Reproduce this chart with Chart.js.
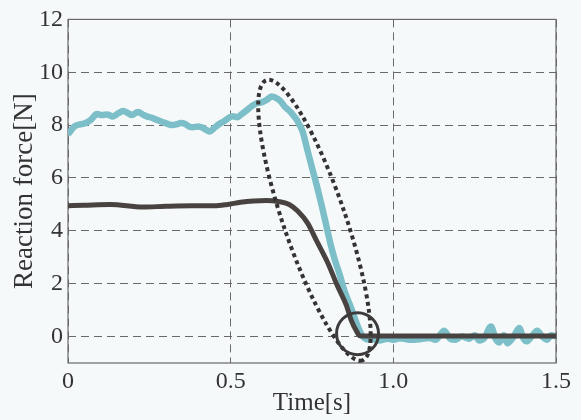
<!DOCTYPE html>
<html>
<head>
<meta charset="utf-8">
<title>Reaction force</title>
<script src="https://cdn.jsdelivr.net/npm/chart.js@4.4.0/dist/chart.umd.min.js"></script>
<style>
  html, body { margin: 0; padding: 0; background: #f6f9fa; }
  #wrap { width: 581px; height: 420px; }
</style>
</head>
<body>
<div id="wrap"><canvas id="forceChart" width="581" height="420"></canvas></div>
<script>
// Axis ticks
const xTicks = [0, 0.5, 1.0, 1.5];
const xTickLabels = ['0', '0.5', '1.0', '1.5'];
const yTicks = [0, 2, 4, 6, 8, 10, 12];

// Dark curve
const blackTime = [0, 0.05, 0.13, 0.23, 0.3, 0.38, 0.45, 0.49, 0.53, 0.57, 0.61, 0.65, 0.68,
    0.706, 0.736, 0.767, 0.798, 0.828, 0.856, 0.871, 0.887, 0.897, 0.92, 1.0, 1.2, 1.5];
const blackForce = [4.95, 4.97, 5.0, 4.9, 4.93, 4.95, 4.95, 5.0, 5.08, 5.13, 5.15, 5.1, 5.0,
    4.75, 4.3, 3.55, 2.8, 1.92, 1.17, 0.6, 0.2, 0.03, 0.02, 0.02, 0.02, 0.02];

// Light (cyan) curve
const cyanTime = [0, 0.021, 0.052, 0.07, 0.089, 0.105, 0.12, 0.138, 0.155, 0.169, 0.185, 0.196,
    0.215, 0.23, 0.242, 0.258, 0.273, 0.29, 0.304, 0.32, 0.334, 0.347, 0.359, 0.372, 0.383, 0.4,
    0.414, 0.425, 0.436, 0.45, 0.466, 0.48, 0.495, 0.506, 0.52, 0.534, 0.548, 0.565, 0.58, 0.595,
    0.61, 0.626, 0.644, 0.655, 0.666, 0.677, 0.687, 0.702, 0.712, 0.72, 0.727, 0.736, 0.752, 0.765,
    0.779, 0.794, 0.806, 0.819, 0.835, 0.85, 0.871, 0.887, 0.9, 0.91, 0.926, 0.945, 0.957, 0.98,
    1.0, 1.02, 1.05, 1.08, 1.11, 1.13, 1.156, 1.175, 1.19, 1.21, 1.233, 1.25, 1.264, 1.28, 1.3,
    1.315, 1.325, 1.34, 1.35, 1.37, 1.387, 1.4, 1.41, 1.425, 1.442, 1.458, 1.472, 1.485, 1.5];
const cyanForce = [7.65, 7.96, 8.07, 8.2, 8.42, 8.38, 8.4, 8.33, 8.45, 8.53, 8.45, 8.38,
    8.5, 8.4, 8.33, 8.28, 8.2, 8.12, 8.06, 8.0, 8.03, 8.08, 8.05, 7.95, 7.92, 7.95,
    7.9, 7.82, 7.76, 7.9, 8.05, 8.15, 8.28, 8.34, 8.3, 8.42, 8.55, 8.72, 8.83, 8.86,
    8.95, 9.08, 9.0, 8.88, 8.7, 8.58, 8.45, 8.22, 8.0, 7.8, 7.5, 7.05, 6.3, 5.7,
    5.0, 4.2, 3.55, 2.95, 2.35, 1.72, 1.06, 0.5, 0.12, -0.05, -0.12, -0.1, -0.15, -0.08,
    -0.12, -0.06, -0.12, -0.1, -0.05, -0.12, 0.22, -0.08, -0.12, 0.0, -0.08, 0.05, -0.15, -0.05, 0.38,
    -0.1, -0.22, 0.05, -0.25, 0.0, 0.32, -0.08, -0.18, 0.0, 0.22, 0.0, -0.12, 0.05, 0.0];

// Annotations: dotted ellipse (top / bottom ends in data units) and the small circle
const ellipseTop = [0.61, 9.7];
const ellipseBottom = [0.905, -0.9];
const circleCenter = [0.89, 0.11];

const toPoints = (xs, ys) => xs.map((v, i) => ({ x: v, y: ys[i] }));

const serif = '"Liberation Serif", "DejaVu Serif", serif';

// frame + ellipse + circle
const overlayPlugin = {
    id: 'overlay',
    beforeDatasetsDraw(chart) {
        const { ctx, chartArea } = chart;
        ctx.save();
        ctx.strokeStyle = '#6a6a6a';
        ctx.lineWidth = 1.2;
        ctx.strokeRect(chartArea.left, chartArea.top,
            chartArea.right - chartArea.left, chartArea.bottom - chartArea.top);
        ctx.restore();
    },
    afterDatasetsDraw(chart) {
        const { ctx } = chart;
        const x = chart.scales.x, y = chart.scales.y;
        const x1 = x.getPixelForValue(ellipseTop[0]), y1 = y.getPixelForValue(ellipseTop[1]);
        const x2 = x.getPixelForValue(ellipseBottom[0]), y2 = y.getPixelForValue(ellipseBottom[1]);
        ctx.save();
        ctx.strokeStyle = '#343232';
        ctx.lineWidth = 4;
        ctx.setLineDash([4, 3.5]);
        ctx.beginPath();
        ctx.ellipse((x1 + x2) / 2, (y1 + y2) / 2, Math.hypot(x2 - x1, y2 - y1) / 2, 31,
            Math.atan2(y2 - y1, x2 - x1), 0, Math.PI * 2);
        ctx.stroke();

        ctx.setLineDash([]);
        ctx.lineWidth = 3;
        ctx.strokeStyle = '#3c3a3a';
        ctx.beginPath();
        ctx.arc(x.getPixelForValue(circleCenter[0]), y.getPixelForValue(circleCenter[1]), 21, 0, Math.PI * 2);
        ctx.stroke();
        ctx.restore();
    }
};

const ctx = document.getElementById('forceChart').getContext('2d');
new Chart(ctx, {
    type: 'scatter',
    data: {
        datasets: [{
            data: toPoints(blackTime, blackForce),
            showLine: true,
            borderColor: '#484341',
            borderWidth: 5,
            pointRadius: 0,
            cubicInterpolationMode: 'monotone'
        }, {
            data: toPoints(cyanTime, cyanForce),
            showLine: true,
            borderColor: '#7dbfc8',
            borderWidth: 6.5,
            pointRadius: 0,
            cubicInterpolationMode: 'monotone'
        }]
    },
    options: {
        responsive: false,
        animation: false,
        layout: { padding: { top: 4, right: 25, left: 0, bottom: 0 } },
        plugins: {
            legend: { display: false },
            tooltip: { enabled: false }
        },
        scales: {
            x: {
                type: 'linear',
                min: 0,
                max: 1.5,
                afterBuildTicks: axis => { axis.ticks = xTicks.map(v => ({ value: v })); },
                afterFit: scale => { scale.height = 57; },
                ticks: {
                    callback: (v, i) => xTickLabels[i],
                    font: { family: serif, size: 24 },
                    color: '#333',
                    padding: 4,
                    maxRotation: 0
                },
                grid: { color: '#6a6a6a', lineWidth: 1, drawTicks: false },
                border: { display: false, dash: [8, 5] },
                title: {
                    display: true,
                    text: 'Time[s]',
                    font: { family: serif, size: 25 },
                    color: '#333',
                    padding: { top: 0, bottom: 2 }
                }
            },
            y: {
                min: -1,
                max: 12,
                afterBuildTicks: axis => { axis.ticks = yTicks.map(v => ({ value: v })); },
                afterFit: scale => { scale.width = 68; },
                ticks: {
                    font: { family: serif, size: 24 },
                    color: '#333',
                    padding: 5
                },
                grid: { color: '#6a6a6a', lineWidth: 1, drawTicks: false },
                border: { display: false, dash: [8, 5] },
                title: {
                    display: true,
                    text: 'Reaction force[N]',
                    font: { family: serif, size: 27 },
                    color: '#333',
                    padding: { top: 9, bottom: 0 }
                }
            }
        }
    },
    plugins: [overlayPlugin]
});
</script>
</body>
</html>
